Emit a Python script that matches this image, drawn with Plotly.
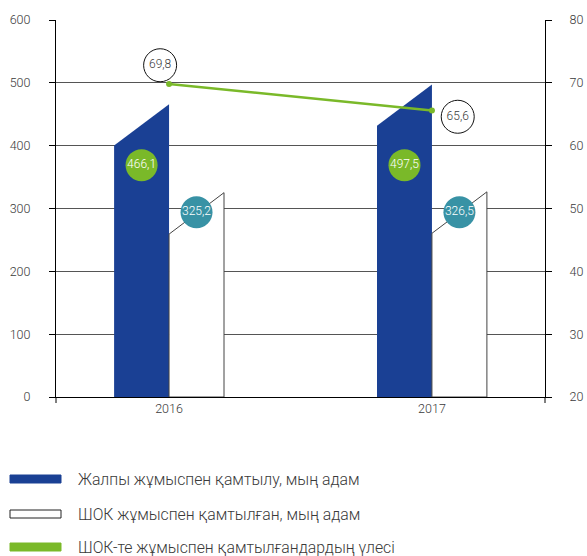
import plotly.graph_objects as go

# ---------------- data ----------------
years = ["2016", "2017"]
total_employment = [466.1, 497.5]       # Жалпы жұмыспен қамтылу, мың адам
sme_employment = [325.2, 326.5]         # ШОК жұмыспен қамтылған, мың адам
sme_share = [69.8, 65.6]                # ШОК-те жұмыспен қамтылғандардың үлесі
total_labels = ["466,1", "497,5"]
sme_labels = ["325,2", "326,5"]
share_labels = ["69,8", "65,6"]
legend_names = [
    "Жалпы жұмыспен қамтылу, мың адам",
    "ШОК жұмыспен қамтылған, мың адам",
    "ШОК-те жұмыспен қамтылғандардың үлесі",
]

# ---------------- style ----------------
W, H = 587, 556
ML, MT = 56, 20
PW, PH = 489, 377
MR, MB = W - ML - PW, H - MT - PH
BLUE = "#1a4094"
GREEN = "#7ab929"
TEAL = "#3892a5"
FONT = "Roboto"
TXT = "#3a3a3a"
BAR_W = 0.209
SLANT = 66          # drop of the top-left corner (axis units)
BAR_LABEL_Y = [369, 294]   # left-axis height of circle labels (blue, white)
SHARE_LABEL_OFF = [(-0.034, 3.0), (0.098, -1.0)]

def px(xp, yp):
    """window pixel -> paper coordinates"""
    return (xp - ML) / PW, (MT + PH - yp) / PH

fig = go.Figure()
xs = list(range(len(years)))

# bars drawn as slanted-top polygons
for i, x in enumerate(xs):
    v = total_employment[i]
    fig.add_trace(go.Scatter(
        x=[x - BAR_W, x - BAR_W, x, x, x - BAR_W],
        y=[0, v - SLANT, v, 0, 0],
        fill="toself", fillcolor=BLUE, mode="lines",
        line=dict(width=0, color=BLUE), hoverinfo="skip", showlegend=False))
    s = sme_employment[i]
    fig.add_trace(go.Scatter(
        x=[x, x, x + BAR_W, x + BAR_W, x],
        y=[0, s - SLANT, s, 0, 0],
        fill="toself", fillcolor="white", mode="lines",
        line=dict(width=1, color="#444444"), hoverinfo="skip", showlegend=False))

# bar value circles
fig.add_trace(go.Scatter(
    x=[x - BAR_W / 2 for x in xs], y=[BAR_LABEL_Y[0]] * len(xs),
    mode="markers+text", text=total_labels, textposition="middle center",
    textfont=dict(family=FONT, size=12, color="white", weight=300),
    marker=dict(size=32, color=GREEN, line=dict(width=0)),
    hoverinfo="skip", showlegend=False))
fig.add_trace(go.Scatter(
    x=[x + BAR_W / 2 for x in xs], y=[BAR_LABEL_Y[1]] * len(xs),
    mode="markers+text", text=sme_labels, textposition="middle center",
    textfont=dict(family=FONT, size=12, color="white", weight=300),
    marker=dict(size=32, color=TEAL, line=dict(width=0)),
    hoverinfo="skip", showlegend=False))

# share line
fig.add_trace(go.Scatter(
    x=xs, y=sme_share, yaxis="y2", mode="lines+markers",
    line=dict(color=GREEN, width=2.5), marker=dict(size=6, color=GREEN),
    hoverinfo="skip", showlegend=False))
fig.add_trace(go.Scatter(
    x=[x + SHARE_LABEL_OFF[i][0] for i, x in enumerate(xs)],
    y=[sme_share[i] + SHARE_LABEL_OFF[i][1] for i in range(len(xs))],
    yaxis="y2", mode="markers+text", text=share_labels,
    textposition="middle center",
    textfont=dict(family=FONT, size=12, color=TXT, weight=300),
    marker=dict(size=33, color="white", line=dict(width=1, color="#111111")),
    hoverinfo="skip", showlegend=False))

shapes = []
# axis extensions below the baseline
for xp in (ML, ML + PW):
    x0, y0 = px(xp, MT + PH)
    _, y1 = px(xp, MT + PH + 6)
    shapes.append(dict(type="line", xref="paper", yref="paper",
                       x0=x0, x1=x0, y0=y0, y1=y1,
                       line=dict(color="black", width=1)))

# manual legend
leg_y = [479, 514, 547]
leg_fill = [BLUE, "white", GREEN]
leg_line = [BLUE, "#222222", GREEN]
annotations = []
for i, name in enumerate(legend_names):
    x0, y0 = px(10, leg_y[i] + 4)
    x1, y1 = px(61, leg_y[i] - 4)
    shapes.append(dict(type="rect", xref="paper", yref="paper",
                       x0=x0, x1=x1, y0=y0, y1=y1, fillcolor=leg_fill[i],
                       line=dict(color=leg_line[i], width=1)))
    tx, ty = px(76, leg_y[i])
    annotations.append(dict(xref="paper", yref="paper", x=tx, y=ty,
                            xanchor="left", yanchor="middle", showarrow=False,
                            text=name,
                            font=dict(family=FONT, size=15.8, color=TXT, weight=300)))

fig.update_layout(
    width=W, height=H, margin=dict(l=ML, r=MR, t=MT, b=MB, autoexpand=False),
    paper_bgcolor="white", plot_bgcolor="white",
    font=dict(family=FONT, size=12, color=TXT),
    showlegend=False,
    shapes=shapes, annotations=annotations,
    xaxis=dict(range=[-0.43, 1.43], tickvals=xs, ticktext=years,
               showgrid=False, zeroline=False, showline=True,
               linecolor="black", linewidth=1, ticks="", automargin=False,
               tickfont=dict(family=FONT, size=12.5, color=TXT, weight=300)),
    yaxis=dict(range=[0, 600], dtick=100, showgrid=True, gridcolor="#555555",
               gridwidth=1, zeroline=False, showline=True, linecolor="black",
               linewidth=1, ticks="outside", ticklen=6, tickcolor="black",
               ticklabelstandoff=16, automargin=False,
               tickfont=dict(family=FONT, size=12.5, color=TXT, weight=300)),
    yaxis2=dict(range=[20, 80], dtick=10, overlaying="y", side="right",
                showgrid=False, zeroline=False, showline=True,
                linecolor="black", linewidth=1, ticks="outside", ticklen=6,
                tickcolor="black", ticklabelstandoff=15, automargin=False,
                tickfont=dict(family=FONT, size=12.5, color=TXT, weight=300)),
)

fig.write_html(
    "out.html",
    config={"displayModeBar": False},
    post_script="document.body.style.margin='0';document.body.style.overflow='hidden';",
)
